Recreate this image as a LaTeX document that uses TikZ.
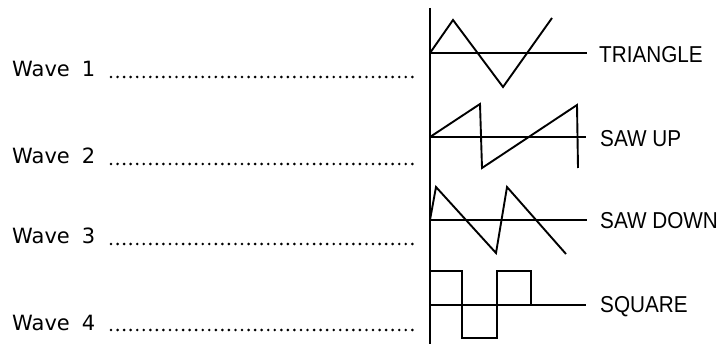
\documentclass[tikz,border=0pt]{standalone}
\usepackage{fontspec}
\setmainfont{DejaVu Sans}
\newfontfamily\labfont[FakeStretch=0.9]{Liberation Sans}
\begin{document}
\begin{tikzpicture}[x=1pt,y=-1pt,
  wavelab/.style={inner sep=0pt,anchor=base west,font=\fontsize{21}{25}\selectfont},
  typelab/.style={inner sep=0pt,anchor=west,font=\labfont\fontsize{23}{27}\selectfont},
  leader/.style={line width=2.9pt,line cap=round,dash pattern=on 0pt off 6.55pt},
  wave/.style={line width=1.9pt,line join=miter},
  base/.style={line width=1.3pt}]
\useasboundingbox (0,0) rectangle (722,344);
% left labels
\foreach \i/\yy in {1/77,2/164,3/244,4/330}{
  \node[wavelab] (w\i) at (12,\yy) {Wave\hspace{12pt}\i};
  \coordinate (ls\i) at (111,\yy);
  \coordinate (le\i) at (417,\yy);
  \draw[leader] (ls\i) -- (le\i);
}
% axis
\coordinate (axtop) at (430,8);
\coordinate (axbot) at (430,344);
\draw[line width=1.5pt] (axtop) -- (axbot);
% labels
\node[typelab] (tri) at (599,55) {TRIANGLE};
\node[typelab] (sup) at (600,139) {SAW UP};
\node[typelab] (sdn) at (600,221) {SAW DOWN};
\node[typelab] (sq) at (600,307) {SQUARE};
% baselines
\coordinate (b1) at (430,53);  \coordinate (e1) at (587,53);
\coordinate (b2) at (430,137); \coordinate (e2) at (586,137);
\coordinate (b3) at (430,220); \coordinate (e3) at (587,220);
\coordinate (b4) at (430,305); \coordinate (e4) at (586,305);
\foreach \k in {1,2,3,4}{\draw[base] (b\k) -- (e\k);}
% triangle
\draw[wave] (430,53) -- (453,20) -- (503,87) -- (552,18);
% saw up
\draw[wave] (430,137) -- (480,104) -- (482,168) -- (577,105) -- (578,168);
% saw down
\draw[wave] (430,220) -- (436,187) -- (496,253) -- (507,187) -- (566,254);
% square
\draw[wave] (430,305) -- (430,271) -- (462,271) -- (462,338) -- (497,338) -- (497,271) -- (531,271) -- (531,305);
\end{tikzpicture}
\end{document}
